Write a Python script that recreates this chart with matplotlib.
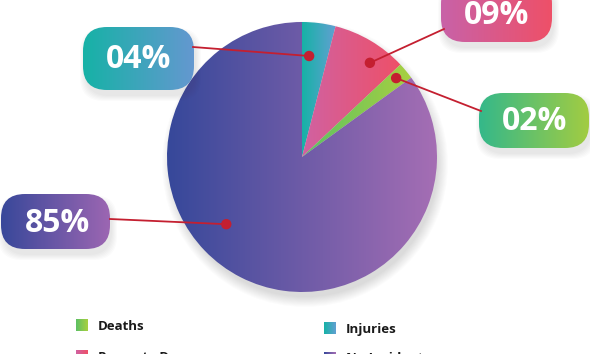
import matplotlib.pyplot as plt
import numpy as np
from matplotlib.patches import FancyBboxPatch, Circle, Rectangle
from matplotlib.colors import LinearSegmentedColormap

plt.rcParams['font.family'] = ['Open Sans', 'DejaVu Sans']

# данные (порядок секторов по часовой стрелке от верха)
slice_names = ['Injuries', 'Property Damage', 'Deaths', 'No Incident']
slice_values = [4, 9, 2, 85]
slice_labels = ['04%', '09%', '02%', '85%']

# градиенты секторов (слева -> направо)
slice_colors = [('#16b2a6', '#62a0d2'),
                ('#d062a2', '#ee5068'),
                ('#5cc064', '#a8d040'),
                ('#36489a', '#a56eb4')]
box_colors = [('#16b2a6', '#6498d0'),
              ('#c862a8', '#ee5068'),
              ('#34b88a', '#a2cc42'),
              ('#38489a', '#9c66b2')]

# легенда: порядок как на картинке
legend_order = [2, 0, 1, 3]

# расположение (пиксели картинки)
cx, cy, R = 302, 157, 135
boxes = [(83, 27, 111, 63), (441, -20, 111, 62), (479, 93, 110, 55), (1, 194, 109, 55)]
text_pos = [(139, 60), (497, 16), (535, 122), (57, 223)]
line_start = [(193, 47), (444, 29), (481, 111), (110, 219)]
anchor = [(0.28, 0.75), (0.66, 0.86), (0.45, 0.91), (0.57, 0.75)]  # доля угла, доля радиуса
legend_xy = [(76, 319), (324, 322), (76, 350), (324, 352)]

fig = plt.figure(figsize=(5.9, 3.54), dpi=100)
ax = fig.add_axes([0, 0, 1, 1])
ax.set_xlim(0, 590)
ax.set_ylim(354, 0)
ax.axis('off')


def gradient(patch, c1, c2, x0, x1, y0, y1, z):
    cmap = LinearSegmentedColormap.from_list('g', [c1, c2])
    im = ax.imshow(np.linspace(0, 1, 256).reshape(1, -1), cmap=cmap,
                   extent=(x0, x1, y1, y0), aspect='auto', zorder=z,
                   interpolation='bilinear')
    im.set_clip_path(patch)


# мягкая тень круга
for k in range(12):
    ax.add_patch(Circle((cx + 3, cy + 7), R - 2 + k * 0.9, color='#404050',
                        alpha=0.014, lw=0, zorder=1))

wedges, _ = ax.pie(slice_values, center=(cx, cy), radius=R, startangle=-90,
                   counterclock=True, wedgeprops=dict(lw=0))
ax.set_xlim(0, 590)
ax.set_ylim(354, 0)

for w, (c1, c2) in zip(wedges, slice_colors):
    w.set_facecolor('none')
    w.set_zorder(3)
    bb = w.get_path().get_extents(w.get_transform() - ax.transData)
    gradient(w, c1, c2, bb.x0, bb.x1, bb.y0, bb.y1, 2)

# подписи в скруглённых рамках
for i, w in enumerate(wedges):
    x, y, bw, bh = boxes[i]
    for k in range(6):
        ax.add_patch(FancyBboxPatch((x + 2, y + 6), bw, bh,
                                    boxstyle='round,pad=%d,rounding_size=24' % k,
                                    fc='#404050', ec='none', alpha=0.018, zorder=4))
    box = FancyBboxPatch((x, y), bw, bh, boxstyle='round,pad=0,rounding_size=24',
                         fc='none', ec='none', zorder=6)
    ax.add_patch(box)
    gradient(box, box_colors[i][0], box_colors[i][1], x, x + bw, y, y + bh, 5)
    ax.text(text_pos[i][0], text_pos[i][1], slice_labels[i], color='white',
            fontsize=23, fontweight='bold', ha='center', va='center', zorder=7)

    fa, fr = anchor[i]
    ang = np.radians(w.theta1 + fa * (w.theta2 - w.theta1))
    dx, dy = cx + fr * R * np.cos(ang), cy + fr * R * np.sin(ang)
    sx, sy = line_start[i]
    ax.plot([sx, dx], [sy, dy], color='#c41f30', lw=1.3, zorder=8)
    ax.add_patch(Circle((dx, dy), 4.5, color='#c41f30', zorder=9))

# легенда (нижний ряд обрезан краем, как в оригинале)
for j, i in enumerate(legend_order):
    lx, ly = legend_xy[j]
    sq = Rectangle((lx, ly), 12, 12, fc='none', ec='none', zorder=6)
    ax.add_patch(sq)
    gradient(sq, slice_colors[i][0], slice_colors[i][1], lx, lx + 12, ly, ly + 12, 5)
    ax.text(lx + 22, ly + 7, slice_names[i], fontsize=9.5, fontweight='bold',
            color='#1a1a1a', ha='left', va='center', zorder=7)

fig.savefig('out.png', dpi=100)
